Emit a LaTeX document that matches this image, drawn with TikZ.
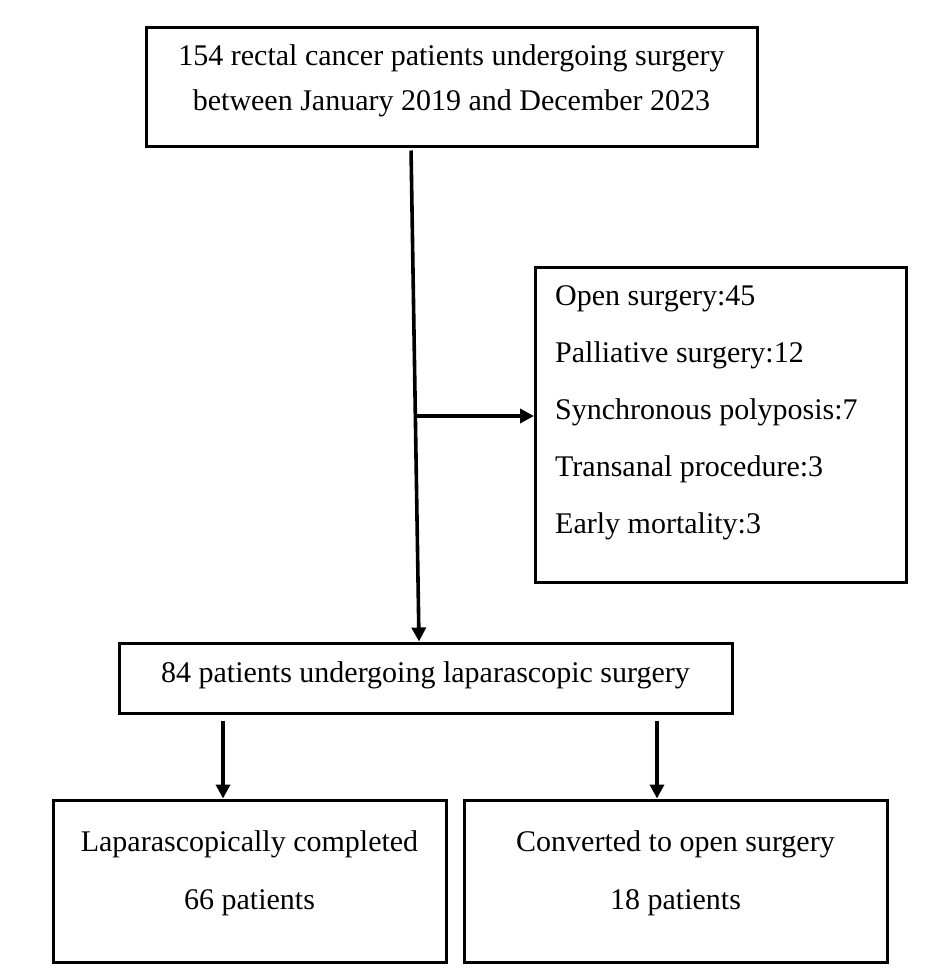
\documentclass[tikz,border=0pt]{standalone}
\usepackage{fontspec}
\setmainfont{Liberation Serif}
\usetikzlibrary{arrows.meta,calc}
\begin{document}
\begin{tikzpicture}[x=1pt,y=-1pt,
  box/.style={draw,line width=3pt,inner sep=0pt,fill=white},
  arr/.style={line width=3.6pt,-{Triangle[length=14pt,width=14pt]}},
  txt/.style={font=\fontsize{30}{36}\selectfont,inner sep=0pt,anchor=base},
  ltxt/.style={txt,anchor=base west}]
\useasboundingbox[fill=white] (0,0) rectangle (947,980);
% boxes
\node[box,minimum width=611pt,minimum height=119pt] (top) at (451.5,86.5) {};
\node[box,minimum width=371pt,minimum height=315pt] (side) at (721,424.5) {};
\node[box,minimum width=613pt,minimum height=70pt] (mid) at (425.5,678) {};
\node[box,minimum width=393pt,minimum height=162pt] (bl) at (249.5,881) {};
\node[box,minimum width=423pt,minimum height=162pt] (br) at (675.5,881) {};
% texts
\node[txt] (t1) at (451.5,65) {154 rectal cancer patients undergoing surgery};
\node[txt] (t2) at (451.5,110) {between January 2019 and December 2023};
\node[ltxt] (s1) at (555,305) {Open surgery:45};
\node[ltxt] (s2) at (555,362) {Palliative surgery:12};
\node[ltxt] (s3) at (555,419) {Synchronous polyposis:7};
\node[ltxt] (s4) at (555,476) {Transanal procedure:3};
\node[ltxt] (s5) at (555,533) {Early mortality:3};
\node[txt] (m1) at (425.5,682) {84 patients undergoing laparascopic surgery};
\node[txt] (b1) at (249.5,851) {Laparascopically completed};
\node[txt] (b2) at (249.5,909) {66 patients};
\node[txt] (c1) at (675.5,851) {Converted to open surgery};
\node[txt] (c2) at (675.5,909) {18 patients};
% connectors
\coordinate (j) at (415.3,416);
\coordinate (la) at (223,0);
\coordinate (ra) at (657,0);
\draw[arr,shorten <=3pt] ($(top.south)+(-40.5,0)$) -- ($(mid.north)+(-6.5,0)$);
\draw[arr] (j) -- (j -| side.west);
\draw[arr,shorten <=6pt] (mid.south -| la) -- (bl.north -| la);
\draw[arr,shorten <=6pt] (mid.south -| ra) -- (br.north -| ra);
\end{tikzpicture}
\end{document}
